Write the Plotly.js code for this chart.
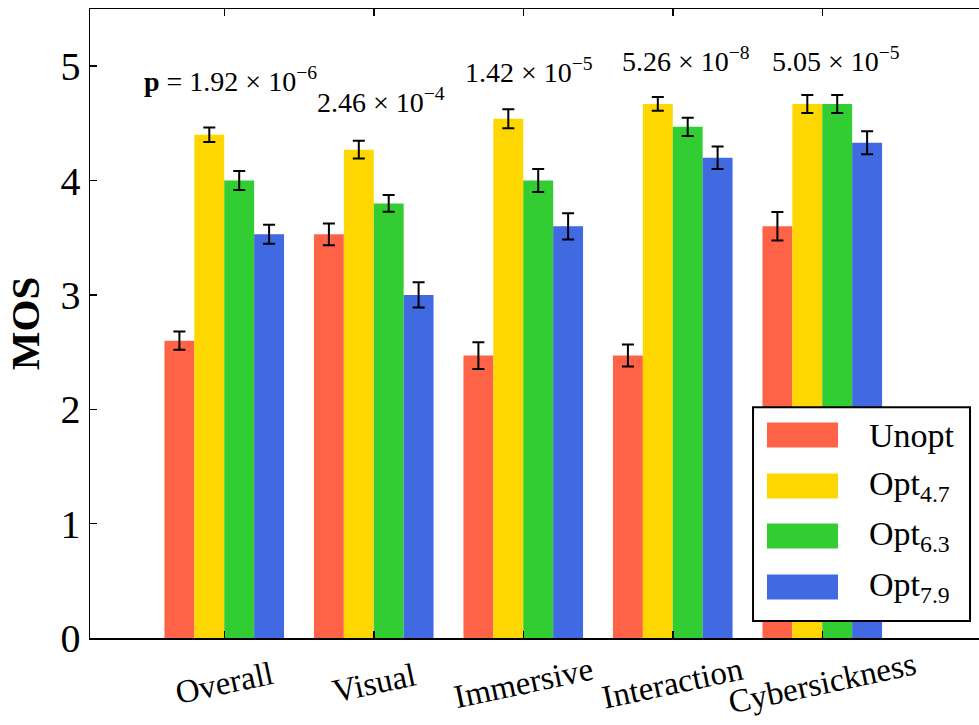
<!DOCTYPE html>
<html><head><meta charset="utf-8">
<script src="https://cdn.plot.ly/plotly-3.0.1.min.js"></script>
<style>html,body{margin:0;padding:0;overflow:hidden;background:#fff}#chart{width:1000px;height:725px}</style>
</head><body><div id="chart"></div>
<script>
// ---- data ----
const categories = ['Overall', 'Visual', 'Immersive', 'Interaction', 'Cybersickness'];
const seriesNames = ['Unopt', 'Opt<sub>4.7</sub>', 'Opt<sub>6.3</sub>', 'Opt<sub>7.9</sub>'];
const unopt    = [2.60, 3.53, 2.47, 2.47, 3.60];
const unoptErr = [0.080, 0.095, 0.117, 0.096, 0.125];
const opt47    = [4.40, 4.27, 4.54, 4.67, 4.67];
const opt47Err = [0.064, 0.077, 0.083, 0.060, 0.079];
const opt63    = [4.00, 3.80, 4.00, 4.47, 4.67];
const opt63Err = [0.083, 0.073, 0.100, 0.080, 0.079];
const opt79    = [3.53, 3.00, 3.60, 4.20, 4.33];
const opt79Err = [0.083, 0.110, 0.115, 0.098, 0.100];
const pValueText = ['<b>p</b> = 1.92 × 10<sup>−6</sup>', '2.46 × 10<sup>−4</sup>', '1.42 × 10<sup>−5</sup>', '5.26 × 10<sup>−8</sup>', '5.05 × 10<sup>−5</sup>'];
const yTickVals = [0, 1, 2, 3, 4, 5];

// ---- styling ----
const colors = ['#FF6347', '#FFD700', '#32CD32', '#4169E1'];
const FONT = 'Liberation Serif, Times New Roman, serif';
const values = [unopt, opt47, opt63, opt79];
const errs = [unoptErr, opt47Err, opt63Err, opt79Err];

const traces = values.map((v, i) => ({
  type: 'bar', x: categories, y: v, name: seriesNames[i],
  marker: {color: colors[i], line: {width: 0}},
  error_y: {type: 'data', array: errs[i], visible: true, color: '#000', thickness: 2, width: 6},
  showlegend: false
}));

// annotation placement (layout only)
const pLabelPos = [[0.04, 4.88], [1.05, 4.70], [2.04, 4.96], [3.09, 5.06], [4.09, 5.06]];
const annotations = [];
pValueText.forEach((t, i) => annotations.push({
  x: pLabelPos[i][0], y: pLabelPos[i][1], xref: 'x', yref: 'y', text: t, showarrow: false,
  font: {family: FONT, size: 28, color: '#000'}, xanchor: 'center', yanchor: 'middle'
}));
categories.forEach((c, i) => annotations.push({
  x: i, y: -0.072, xref: 'x', yref: 'paper', text: c, showarrow: false, textangle: -12,
  font: {family: FONT, size: 33, color: '#000'}, xanchor: 'center', yanchor: 'middle'
}));

// custom legend
const shapes = [{type: 'rect', xref: 'paper', yref: 'paper', x0: 0.7367, x1: 0.9778, y0: 0.027, y1: 0.367,
  line: {color: '#000', width: 2}, fillcolor: '#fff', layer: 'above'}];
const legY = [0.3227, 0.2417, 0.1622, 0.0811];
seriesNames.forEach((n, i) => {
  shapes.push({type: 'rect', xref: 'paper', yref: 'paper', x0: 0.7522, x1: 0.8311,
    y0: legY[i] - 0.0199, y1: legY[i] + 0.0199, line: {width: 0}, fillcolor: colors[i], layer: 'above'});
  annotations.push({x: 0.8633, y: legY[i], xref: 'paper', yref: 'paper', text: n, showarrow: false,
    font: {family: FONT, size: 34, color: '#000'}, xanchor: 'left', yanchor: 'middle'});
});

const layout = {
  width: 1000, height: 725,
  margin: {l: 90, r: 10, t: 9, b: 87},
  paper_bgcolor: '#fff', plot_bgcolor: '#fff',
  barmode: 'group', bargap: 0.2, bargroupgap: 0,
  font: {family: FONT, color: '#000'},
  xaxis: {type: 'category', range: [-0.898, 5.122], showticklabels: false, ticks: 'inside', ticklen: 7,
    tickwidth: 1.5, tickcolor: '#000', showline: true, linecolor: '#000', linewidth: 1.5, mirror: 'ticks',
    showgrid: false, zeroline: false},
  yaxis: {range: [0, 5.5], tickvals: yTickVals, ticks: 'inside', ticklen: 7, tickwidth: 1.5, tickcolor: '#000',
    showline: true, linecolor: '#000', linewidth: 1.5, mirror: 'ticks', showgrid: false, zeroline: false,
    tickfont: {family: FONT, size: 40, color: '#000'},
    title: {text: '<b>MOS</b>', font: {family: FONT, size: 41, color: '#000'}, standoff: 8}},
  shapes: shapes, annotations: annotations
};
Plotly.newPlot('chart', traces, layout, {displayModeBar: false, staticPlot: true});
</script></body></html>
